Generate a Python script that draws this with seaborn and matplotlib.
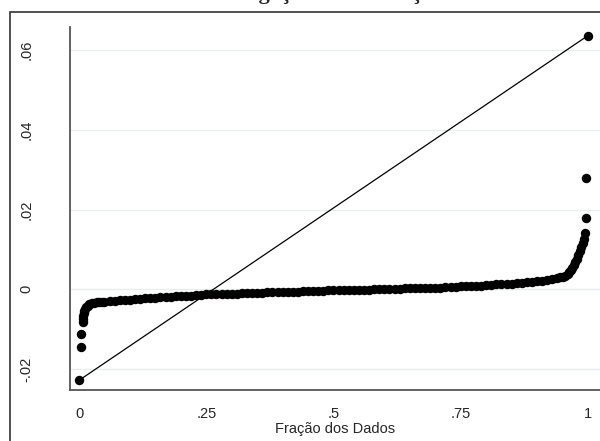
import numpy as np
import seaborn as sns
import matplotlib.pyplot as plt
from matplotlib.patches import Rectangle

# Quantis ordenados (fração dos dados, valor)
frac_inf = [0.0006, 0.004, 0.0045, 0.007, 0.0075, 0.008, 0.009, 0.010, 0.012, 0.014,
            0.017, 0.020, 0.025, 0.030, 0.035, 0.040, 0.045, 0.050]
val_inf = [-0.0228, -0.0145, -0.0111, -0.0081, -0.0074, -0.0067, -0.0060, -0.0054, -0.0049, -0.0045,
           -0.0041, -0.0038, -0.0035, -0.0034, -0.0033, -0.0032, -0.0031, -0.0031]

frac_centro = [0.06, 0.07, 0.08, 0.09, 0.10, 0.11, 0.12, 0.13, 0.14, 0.15,
               0.16, 0.17, 0.18, 0.19, 0.20, 0.21, 0.22, 0.23, 0.24, 0.25,
               0.26, 0.27, 0.28, 0.29, 0.30, 0.31, 0.32, 0.33, 0.34, 0.35,
               0.36, 0.37, 0.38, 0.39, 0.40, 0.41, 0.42, 0.43, 0.44, 0.45,
               0.46, 0.47, 0.48, 0.49, 0.50, 0.51, 0.52, 0.53, 0.54, 0.55,
               0.56, 0.57, 0.58, 0.59, 0.60, 0.61, 0.62, 0.63, 0.64, 0.65,
               0.66, 0.67, 0.68, 0.69, 0.70, 0.71, 0.72, 0.73, 0.74, 0.75,
               0.76, 0.77, 0.78, 0.79, 0.80, 0.81, 0.82, 0.83, 0.84, 0.85,
               0.86, 0.87, 0.88, 0.89, 0.90, 0.91, 0.92, 0.93, 0.94]
val_centro = [-0.0030, -0.0029, -0.0028, -0.0027, -0.0026, -0.0025, -0.0024, -0.0023, -0.0022, -0.0021,
              -0.0020, -0.0020, -0.0019, -0.0018, -0.0017, -0.0016, -0.0016, -0.0015, -0.0014, -0.0013,
              -0.0013, -0.0012, -0.0012, -0.0011, -0.0011, -0.0011, -0.0010, -0.0010, -0.0009, -0.0009,
              -0.0009, -0.0008, -0.0008, -0.0007, -0.0007, -0.0007, -0.0006, -0.0006, -0.0005, -0.0005,
              -0.0005, -0.0004, -0.0004, -0.0003, -0.0003, -0.0003, -0.0002, -0.0002, -0.0002, -0.0001,
              -0.0001, -0.0001, 0.0000, 0.0000, 0.0000, 0.0001, 0.0001, 0.0001, 0.0002, 0.0002,
              0.0002, 0.0003, 0.0003, 0.0003, 0.0004, 0.0004, 0.0005, 0.0005, 0.0006, 0.0007,
              0.0007, 0.0008, 0.0008, 0.0009, 0.0010, 0.0011, 0.0012, 0.0012, 0.0013, 0.0014,
              0.0015, 0.0016, 0.0018, 0.0019, 0.0021, 0.0022, 0.0024, 0.0026, 0.0028]

frac_sup = [0.945, 0.950, 0.955, 0.960, 0.963, 0.966, 0.969, 0.972, 0.975, 0.978,
            0.981, 0.984, 0.987, 0.990, 0.992, 0.994, 0.996, 0.997, 0.9994]
val_sup = [0.0030, 0.0032, 0.0034, 0.0038, 0.0043, 0.0048, 0.0054, 0.0061, 0.0068, 0.0076,
           0.0085, 0.0095, 0.0106, 0.0117, 0.0127, 0.0140, 0.0179, 0.0278, 0.0636]

x_ticks = [0, 0.25, 0.5, 0.75, 1]
x_labels = ["0", ".25", ".5", ".75", "1"]
y_ticks = [-0.02, 0, 0.02, 0.04, 0.06]
y_labels = ["-.02", "0", ".02", ".04", ".06"]

fracao = np.array(frac_inf + frac_centro + frac_sup)
valor = np.array(val_inf + val_centro + val_sup)

sns.set_style("white")
plt.rcParams['font.family'] = ['Liberation Sans', 'DejaVu Sans']

fig = plt.figure(figsize=(6, 4.41), dpi=100)
ax = fig.add_axes([70/600, 1 - 390/441, 530/600, (390 - 27)/441])

# linha de referência (mínimo ao máximo)
sns.lineplot(x=[fracao[0], fracao[-1]], y=[valor[0], valor[-1]], color='black',
             linewidth=0.9, ax=ax, zorder=2)
sns.scatterplot(x=fracao, y=valor, color='black', s=46, linewidth=0, ax=ax, zorder=3)

ax.set_xlim(-0.0177, 1.0236)
ax.set_ylim(-0.02527, 0.0658)
ax.set_xticks(x_ticks)
ax.set_xticklabels(x_labels)
ax.set_yticks(y_ticks)
ax.set_yticklabels(y_labels, rotation=90, va='center')
ax.grid(axis='y', color='#e6eef0', linewidth=1)
ax.tick_params(axis='x', length=6, width=1, color='black', pad=6, labelsize=10.5)
ax.tick_params(axis='y', length=4.5, width=1, color='black', pad=22, labelsize=10.5)
ax.set_xlabel('Fração dos Dados', fontsize=10.5, labelpad=1)
ax.set_ylabel('')
for side in ['top', 'right']:
    ax.spines[side].set_visible(False)
for side in ['left', 'bottom']:
    ax.spines[side].set_color('#555555')
    ax.spines[side].set_linewidth(1.3)

# moldura externa do gráfico
fig.add_artist(Rectangle((10/600, -0.1), 1.0, 1 - 12/441 + 0.1, fill=False,
                         edgecolor='#333333', linewidth=1.2, transform=fig.transFigure))

# título cortado na borda superior, como no original
fig.text(0.522, 1 + 1/441, 'Gráfico 1 – Investigação da Presença de Outliers',
         ha='center', va='baseline', fontsize=16, fontweight='bold', family='Liberation Serif')

fig.savefig('out.png', dpi=100)
plt.close()
